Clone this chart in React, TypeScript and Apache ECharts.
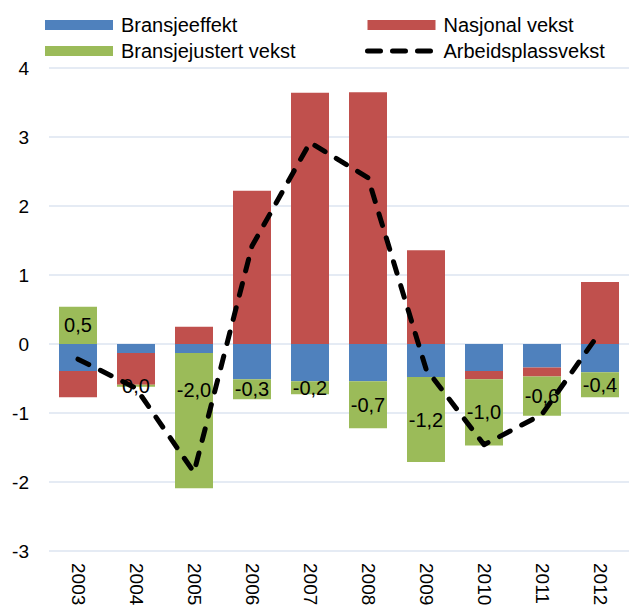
import React, { useEffect, useRef } from "react";
import * as echarts from "echarts";

const years = ["2003", "2004", "2005", "2006", "2007", "2008", "2009", "2010", "2011", "2012"];
const bransjeeffekt = [-0.39, -0.13, -0.13, -0.51, -0.54, -0.54, -0.48, -0.39, -0.34, -0.41];
const nasjonalVekst = [-0.38, -0.46, 0.25, 2.22, 3.64, 3.65, 1.36, -0.12, -0.13, 0.9];
const bransjejustertVekst = [0.54, -0.03, -1.96, -0.29, -0.19, -0.68, -1.23, -0.96, -0.57, -0.36];
const arbeidsplassvekst = [-0.22, -0.64, -1.86, 1.42, 2.92, 2.41, -0.36, -1.46, -1.02, 0.17];
const yTicks = [-3, -2, -1, 0, 1, 2, 3, 4];

const FONT = "'Liberation Sans', Arial, sans-serif";

function fmt(v: number): string {
  const s = v.toFixed(1).replace(".", ",");
  return s === "-0,0" ? "0,0" : s;
}

export default function App() {
  const ref = useRef<HTMLDivElement>(null);
  useEffect(() => {
    if (!ref.current) return;
    const chart = echarts.init(ref.current, null, { renderer: "svg" });
    const greenData = bransjejustertVekst.map((v, i) =>
      i === 2
        ? { value: v, label: { position: "insideTop", distance: 27 } }
        : { value: v }
    );
    const legendCommon = {
      orient: "vertical",
      itemWidth: 68,
      itemHeight: 10,
      itemGap: 6,
      textStyle: { fontSize: 20, fontFamily: FONT, color: "#000", lineHeight: 20, padding: [0, 0, 0, 3] },
      lineStyle: { type: [13, 12], width: 5, cap: "round" },
    };
    chart.setOption({
      animation: false,
      backgroundColor: "#fff",
      textStyle: { fontFamily: FONT },
      legend: [
        {
          ...legendCommon,
          left: 40,
          top: 10,
          data: [
            { name: "Bransjeeffekt", icon: "rect" },
            { name: "Bransjejustert vekst", icon: "rect" },
          ],
        },
        {
          ...legendCommon,
          left: 360,
          top: 10,
          data: [
            { name: "Nasjonal vekst", icon: "rect" },
            { name: "Arbeidsplassvekst", itemStyle: { opacity: 0 } },
          ],
        },
      ],
      grid: { left: 49, right: 1, top: 68, bottom: 61, containLabel: false },
      xAxis: {
        type: "category",
        data: years,
        position: "bottom",
        axisLine: { show: false },
        axisTick: { show: false },
        axisLabel: { rotate: -90, fontSize: 19, color: "#000", margin: 12, fontFamily: FONT },
      },
      yAxis: {
        type: "value",
        min: yTicks[0],
        max: yTicks[yTicks.length - 1],
        interval: 1,
        axisLine: { show: false },
        axisTick: { show: false },
        axisLabel: { fontSize: 19, color: "#000", margin: 20, fontFamily: FONT },
        splitLine: { lineStyle: { color: "#dce5f1", width: 1.5 } },
      },
      series: [
        {
          name: "Bransjeeffekt",
          type: "bar",
          stack: "total",
          barWidth: 38,
          data: bransjeeffekt,
          itemStyle: { color: "#4F81BD" },
        },
        {
          name: "Nasjonal vekst",
          type: "bar",
          stack: "total",
          barWidth: 38,
          data: nasjonalVekst,
          itemStyle: { color: "#C0504D" },
        },
        {
          name: "Bransjejustert vekst",
          type: "bar",
          stack: "total",
          barWidth: 38,
          data: greenData,
          itemStyle: { color: "#9BBB59" },
          label: {
            show: true,
            position: "inside",
            fontSize: 20,
            color: "#000",
            fontFamily: FONT,
            formatter: (p: any) => fmt(p.value),
          },
        },
        {
          name: "Arbeidsplassvekst",
          type: "line",
          data: arbeidsplassvekst,
          symbol: "none",
          showSymbol: false,
          z: 10,
          itemStyle: { color: "#000" },
          lineStyle: { color: "#000", width: 5, type: [12, 13], cap: "round", join: "round" },
        },
      ],
    });
    return () => chart.dispose();
  }, []);
  return <div ref={ref} style={{ position: "fixed", left: 0, top: 0, width: 630, height: 612 }} />;
}
